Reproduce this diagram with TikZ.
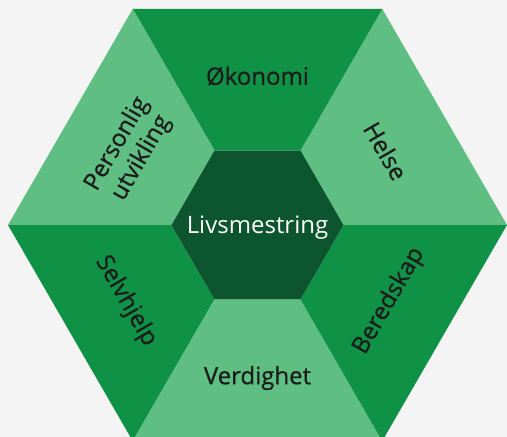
\documentclass[tikz,border=0pt]{standalone}
\usepackage{fontspec}
\setmainfont{Open Sans}
\newfontfamily\segfont{Open Sans}[FakeBold=0.7]
\usetikzlibrary{positioning}
\definecolor{hdark}{HTML}{0F9245}
\definecolor{hlight}{HTML}{5FBF82}
\definecolor{hcore}{HTML}{0C552E}
\definecolor{hback}{HTML}{F4F4F4}
\definecolor{htext}{HTML}{1C1C1C}

\begin{document}
\begin{tikzpicture}[x=1pt,y=1pt]

  % Background, fixes the picture size
  \fill[hback] (-257.5,-212) rectangle (249.5,225);
  \useasboundingbox (-257.5,-212) rectangle (249.5,225);

  \tikzset{
    seglabel/.style = {text=htext, font=\segfont\fontsize{24}{28}\selectfont, align=center, inner sep=0pt},
    corelabel/.style = {text=white, font=\fontsize{24}{28}\selectfont, inner sep=0pt}
  };

  % Outer ring: one trapezoid per segment
  \foreach \a/\col in {0/hlight,60/hdark,120/hlight,180/hdark,240/hlight,300/hdark} {
    \fill[\col] (\a:249.5) -- (\a+60:249.5) -- (\a+60:86) -- (\a:86) -- cycle;
  }

  % Core hexagon
  \fill[hcore] (0:86) -- (60:86) -- (120:86) -- (180:86) -- (240:86) -- (300:86) -- cycle;
  \node[corelabel] (livs) at (0,-2.5) {Livsmestring};

  % Segment labels
  \foreach \n/\a/\d/\r/\txt in {helse/30/148/-60/Helse, okonomi/90/149/0/Økonomi,
      personlig/150/148/60/{Personlig\\utvikling}, selvhjelp/210/152/-60/Selvhjelp,
      verdighet/270/153/0/Verdighet, beredskap/330/152/60/Beredskap} {
    \node[seglabel, rotate=\r] (\n) at (\a:\d) {\txt};
  }

\end{tikzpicture}
\end{document}
